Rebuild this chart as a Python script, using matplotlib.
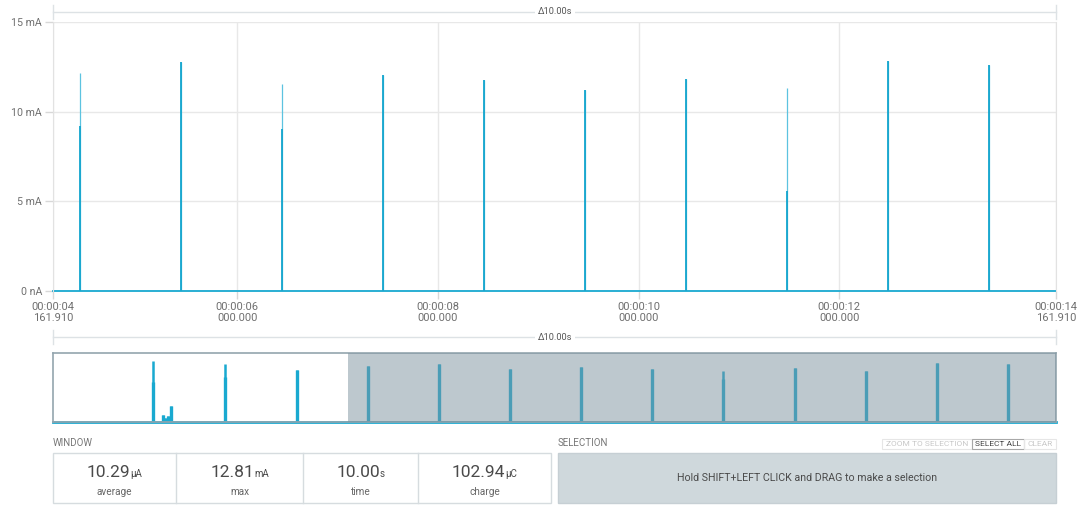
import matplotlib
matplotlib.use("Agg")
import matplotlib.pyplot as plt
from matplotlib.patches import Rectangle
from matplotlib.ticker import FuncFormatter

plt.rcParams['font.family'] = ['Roboto', 'DejaVu Sans']

# window shown in the main chart (seconds)
t_start = 4.16191
t_span = 10.0
rec_end = 14.16191
x_ticks = [t_start, 6, 8, 10, 12, t_start + t_span]
y_ticks = [0, 5, 10, 15]

# spikes in the main window: time (s), peak (mA), height of the thick lower part (mA)
spike_t = [4.431, 5.438, 6.445, 7.452, 8.459, 9.466, 10.473, 11.480, 12.487, 13.494]
spike_peak = [12.15, 12.75, 11.55, 12.05, 11.75, 11.20, 11.80, 11.30, 12.81, 12.60]
spike_low = [9.20, 12.75, 9.05, 12.05, 11.75, 11.20, 11.80, 5.60, 12.81, 12.60]

# overview (whole recording) spikes
ov_t = [1.41, 1.553, 1.58, 1.62, 1.666, 2.429, 3.445, 4.448, 5.45, 6.453,
        7.455, 8.458, 9.46, 10.477, 11.479, 12.482, 13.484]
ov_peak = [12.3, 1.4, 0.9, 1.2, 3.3, 11.8, 10.6, 11.3, 11.8, 10.7,
           11.2, 10.8, 10.4, 10.95, 10.4, 11.9, 11.7]
ov_low = [8.0, 1.4, 0.9, 1.2, 3.3, 9.1, 10.6, 11.3, 11.8, 10.7,
          11.2, 10.8, 8.6, 10.95, 10.4, 11.9, 11.7]

stat_values = ["10.29", "12.81", "10.00", "102.94"]
stat_units = ["μA", "mA", "s", "μC"]
stat_names = ["average", "max", "time", "charge"]

BLUE = "#19a9d0"
W, H = 1080, 515


def box(x0, y0, x1, y1):
    return [x0 / W, 1 - y1 / H, (x1 - x0) / W, (y1 - y0) / H]


def fmt_time(v, pos=None):
    s = int(round(v * 1e6))
    sec = s // 1000000
    ms = (s % 1000000) / 1000
    return f"00:00:{sec:02d}\n{ms:07.3f}"


def fmt_amp(v, pos=None):
    return "0 nA" if v == 0 else f"{v:g} mA"


fig = plt.figure(figsize=(10.8, 5.15), dpi=100)

# overlay in pixel coordinates for the UI parts
ov = fig.add_axes([0, 0, 1, 1], zorder=0)
ov.set_xlim(0, W)
ov.set_ylim(H, 0)
ov.axis('off')

# main chart
ax = fig.add_axes(box(53, 22, 1056, 291), zorder=1)
ax.set_facecolor('none')
ax.set_xlim(t_start, t_start + t_span)
ax.set_ylim(0, 15)
ax.vlines(spike_t, 0, spike_peak, color='#5cc3e0', lw=0.9)
ax.vlines(spike_t, 0, spike_low, color='#14a6ce', lw=1.3)
ax.axhline(0, color=BLUE, lw=1.3, clip_on=False)
ax.set_xticks(x_ticks, labels=[fmt_time(t) for t in x_ticks])
ax.set_yticks(y_ticks)
ax.yaxis.set_major_formatter(FuncFormatter(fmt_amp))
ax.grid(color='#e8e8e8', lw=1)
ax.set_axisbelow(True)
for s in ['top', 'bottom']:
    ax.spines[s].set_visible(False)
for s in ['left', 'right']:
    ax.spines[s].set_color('#e2e2e2')
ax.tick_params(colors='#d8d8d8', labelcolor='#6f6f6f', labelsize=7.7,
               length=6, width=1, pad=2)
ax.tick_params(axis='x', labelsize=8)
for lab in ax.get_xticklabels():
    lab.set_linespacing(1.1)

# overview strip
mm = fig.add_axes(box(53, 352.7, 1056, 422), zorder=1)
mm.set_xlim(0, rec_end)
mm.set_ylim(0, 14)
mm.vlines(ov_t, 0, ov_low, color=BLUE, lw=2.4)
mm.vlines(ov_t, 0, ov_peak, color=BLUE, lw=1.8)
mm.axhline(0, color=BLUE, lw=2, clip_on=False)
mm.axvspan(t_start, rec_end, color='#7d929e', alpha=0.5, lw=0, zorder=3)
mm.set_xticks([])
mm.set_yticks([])
for s in mm.spines.values():
    s.set_color('#93a5ae')
    s.set_linewidth(1.2)


def delta(y):
    ov.plot([53, 1056], [y, y], color='#dde2e5', lw=1)
    ov.plot([53, 53], [y - 7, y + 7], color='#dde2e5', lw=1)
    ov.plot([1056, 1056], [y - 7, y + 7], color='#dde2e5', lw=1)
    ov.text(555, y, f"Δ{t_span:.2f}s", ha='center', va='center', fontsize=6.7,
            color='#555555', bbox=dict(fc='white', ec='none', pad=2))


delta(12)
delta(337)

# WINDOW panel
ov.text(53, 446.5, "WINDOW", fontsize=7, color='#777777', va='baseline')
edges = [52.7, 176.3, 302.7, 418.3, 551]
ov.add_patch(Rectangle((edges[0], 453.3), edges[-1] - edges[0], 50,
                       fill=False, ec='#d6dcdf', lw=1))
for e in edges[1:-1]:
    ov.plot([e, e], [453.3, 503.3], color='#d6dcdf', lw=1)

r = fig.canvas.get_renderer()
for i in range(4):
    cx = (edges[i] + edges[i + 1]) / 2
    t1 = ov.text(0, 476.7, stat_values[i], fontsize=12.5, color='#4a4a4a',
                 va='baseline', ha='left')
    t2 = ov.text(0, 476.7, stat_units[i], fontsize=7, color='#4a4a4a',
                 va='baseline', ha='left')
    w1 = t1.get_window_extent(r).width
    w2 = t2.get_window_extent(r).width
    x0 = cx - (w1 + w2) / 2
    t1.set_x(x0)
    t2.set_x(x0 + w1)
    ov.text(cx, 495, stat_names[i], fontsize=7.2, color='#666666',
            ha='center', va='baseline')

# SELECTION panel
ov.text(558, 446.5, "SELECTION", fontsize=7, color='#777777', va='baseline')
ov.add_patch(Rectangle((558, 453.3), 498, 50, fc='#cfd8dc', ec='#c6cfd4', lw=1))
ov.text(807, 478, "Hold SHIFT+LEFT CLICK and DRAG to make a selection",
        fontsize=7.7, color='#4a4a4a', ha='center', va='center')

buttons = [("ZOOM TO SELECTION", 881.7, 971.7, '#c8c8c8', '#e6e6e6'),
           ("SELECT ALL", 971.7, 1024.3, '#444444', '#a8a8a8'),
           ("CLEAR", 1024.3, 1055.5, '#c8c8c8', '#e6e6e6')]
for label, bx0, bx1, tc, ec in buttons:
    ov.add_patch(Rectangle((bx0, 438.8), bx1 - bx0, 10.5, fill=False, ec=ec, lw=0.8))
    ov.text((bx0 + bx1) / 2, 444.2, label, fontsize=6.0, color=tc,
            ha='center', va='center')

fig.savefig("out.png", dpi=100)
